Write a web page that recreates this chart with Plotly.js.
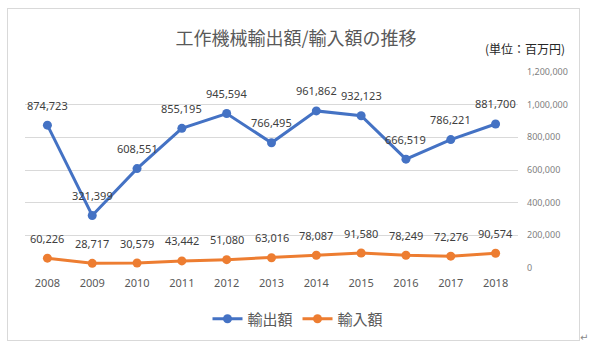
<!DOCTYPE html>
<html>
<head>
<meta charset="utf-8">
<script src="https://cdn.plot.ly/plotly-3.0.1.min.js"></script>
<style>
html,body{margin:0;padding:0;background:#fff;}
#frame{position:absolute;left:7px;top:8px;width:571px;height:331px;border:1px solid #D9D9D9;z-index:0;}
#chart{position:absolute;left:0;top:0;width:592px;height:351px;z-index:1;}
#ret{position:absolute;left:580px;top:332px;font-size:10px;color:#888;font-family:"DejaVu Sans";z-index:2;}
</style>
</head>
<body>
<div id="frame"></div>
<div id="chart"></div>
<div id="ret">↵</div>
<script>
const years = ["2008","2009","2010","2011","2012","2013","2014","2015","2016","2017","2018"];
const exportsVals = [874723, 321399, 608551, 855195, 945594, 766495, 961862, 932123, 666519, 786221, 881700];
const importsVals = [60226, 28717, 30579, 43442, 51080, 63016, 78087, 91580, 78249, 72276, 90574];
const seriesNames = ["輸出額", "輸入額"];
const yTicks = [0, 200000, 400000, 600000, 800000, 1000000, 1200000];

const FONT = '"Noto Sans", "Noto Sans CJK JP", sans-serif';
const blue = '#4472C4', orange = '#ED7D31';
const fmt = v => v.toLocaleString('en-US');

const traces = [
  {x: years, y: exportsVals, name: seriesNames[0], type: 'scatter', mode: 'lines+markers',
   line: {color: blue, width: 3}, marker: {color: blue, size: 9}, hoverinfo: 'none'},
  {x: years, y: importsVals, name: seriesNames[1], type: 'scatter', mode: 'lines+markers',
   line: {color: orange, width: 3}, marker: {color: orange, size: 9}, hoverinfo: 'none'}
];

const annotations = [];
[exportsVals, importsVals].forEach(arr => {
  arr.forEach((v, i) => {
    annotations.push({x: i, y: v, xref: 'x', yref: 'y', text: fmt(v), showarrow: false,
      yshift: 20, font: {family: FONT, size: 11, color: '#404040'}});
  });
});
annotations.push({xref: 'paper', yref: 'paper', x: 1.015, y: 1.12, xanchor: 'center', yanchor: 'middle',
  text: '(単位：百万円)', showarrow: false, font: {family: '"Noto Sans CJK JP", sans-serif', size: 12, color: '#262626'}});

const layout = {
  width: 592, height: 351,
  margin: {l: 25, r: 74, t: 72, b: 83},
  paper_bgcolor: 'rgba(0,0,0,0)', plot_bgcolor: 'rgba(0,0,0,0)',
  title: {text: '工作機械輸出額/輸入額の推移', x: 296/592, xanchor: 'center', xref: 'container',
    y: 1 - 39/351, yanchor: 'middle', yref: 'container',
    font: {family: '"Noto Sans CJK JP", sans-serif', size: 18, color: '#595959'}},
  xaxis: {type: 'category', range: [-0.5, 10.5], showgrid: false, zeroline: false, showline: false,
    ticks: '', ticklabelstandoff: 7, tickfont: {family: FONT, size: 11, color: '#595959'}, fixedrange: true},
  yaxis: {side: 'right', range: [0, 1200000], tickvals: yTicks, ticktext: yTicks.map(fmt),
    showgrid: true, gridcolor: '#D9D9D9', gridwidth: 1, zeroline: false, showline: false, ticks: '',
    ticklabelstandoff: 8, tickfont: {family: FONT, size: 9, color: '#7F7F7F'}, fixedrange: true},
  showlegend: true,
  legend: {orientation: 'h', x: 298/592, xref: 'container', xanchor: 'center', y: 1 - 319/351, yref: 'container', yanchor: 'middle',
    font: {family: '"Noto Sans CJK JP", sans-serif', size: 15, color: '#595959'}, bgcolor: 'rgba(0,0,0,0)'},
  annotations: annotations
};

Plotly.newPlot('chart', traces, layout, {displayModeBar: false, staticPlot: true});
</script>
</body>
</html>
